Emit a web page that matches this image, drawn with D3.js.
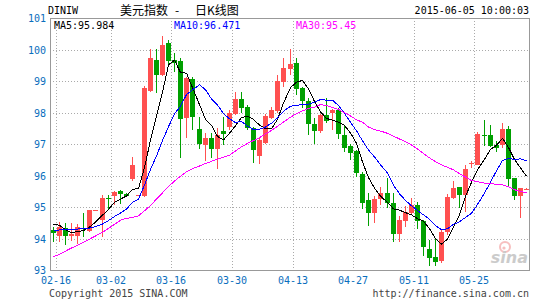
<!DOCTYPE html>
<html>
<head>
<meta charset="utf-8">
<script src="https://cdn.jsdelivr.net/npm/d3@7"></script>
<style>
  body { margin: 0; background: #fff; }
  text { font-family: "DejaVu Sans Mono", monospace; font-size: 10px; }
</style>
</head>
<body>
<div id="container"></div>
<script>
// DINIW daily candles, 2015-02-13 .. 2015-06-05 (one entry per trading day)
var opens = [94.26,94.05,94.34,94.07,94.10,94.34,94.23,94.87,94.58,95.27,
  95.34,95.50,95.42,95.91,95.35,95.36,98.70,99.68,99.20,100.22,
  99.68,99.62,97.82,99.07,97.47,96.98,97.20,96.85,97.42,97.55,
  97.95,98.43,98.17,97.50,96.60,97.05,97.82,98.05,98.98,99.40,
  99.56,98.77,98.37,97.64,97.42,97.92,97.98,98.07,97.30,96.95,
  96.77,96.06,95.21,94.80,95.24,95.43,95.12,94.14,94.55,94.79,
  95.05,94.55,93.68,93.40,93.27,94.20,95.30,95.62,95.38,96.35,
  96.35,97.29,97.29,96.98,96.97,97.48,95.92,95.34,95.55];
var highs = [94.35,94.52,94.50,94.50,94.45,94.82,94.91,94.91,95.37,95.37,
  95.52,95.55,95.46,96.60,95.38,98.83,100.02,100.03,100.44,100.30,
  99.90,99.74,99.14,99.12,97.85,97.35,97.35,97.50,97.87,98.08,
  98.65,98.65,98.25,97.55,97.20,97.95,98.19,99.19,99.72,100.03,
  99.72,98.82,98.45,97.82,97.96,98.45,98.10,98.14,97.56,97.00,
  96.80,96.10,95.43,95.35,95.64,95.93,95.43,94.72,95.03,95.27,
  95.17,94.60,93.95,94.00,94.30,95.40,95.84,95.62,96.32,96.46,
  97.37,97.77,97.60,97.10,97.67,97.56,95.92,95.60,95.61];
var lows = [93.88,93.88,93.78,93.92,93.82,94.05,94.20,94.86,94.06,94.93,
  95.05,95.10,95.33,95.84,95.34,95.33,98.66,98.63,99.15,99.55,
  99.30,96.56,97.20,97.45,96.83,96.45,96.56,96.20,96.98,97.45,
  97.92,98.00,97.45,96.40,96.35,97.00,97.80,98.00,98.82,99.20,
  98.56,98.15,97.30,97.00,97.35,97.66,97.45,97.17,96.75,96.50,
  95.95,94.95,94.40,94.50,95.06,94.98,93.90,93.90,94.38,94.75,
  94.30,93.45,93.12,93.12,93.22,94.10,95.25,94.96,94.85,96.24,
  96.33,96.95,96.90,96.74,96.88,95.66,95.22,94.64,95.53];
var closes = [94.18,94.35,94.09,94.13,94.37,94.30,94.89,94.89,95.27,95.24,
  95.47,95.40,95.36,96.34,95.37,98.79,99.74,99.19,100.15,99.66,
  99.58,97.77,99.08,97.85,96.98,97.20,96.85,97.30,97.34,98.00,
  98.43,98.15,97.50,96.80,97.12,97.90,98.08,99.00,99.42,99.55,
  98.75,98.36,97.65,97.42,97.92,97.72,98.08,97.31,96.90,96.74,
  96.06,95.15,94.80,95.24,95.43,95.11,94.14,94.60,94.84,95.05,
  94.53,93.72,93.40,93.25,94.20,95.32,95.61,95.37,96.21,96.39,
  97.33,97.27,96.95,96.87,97.48,95.90,95.34,95.59,95.58];

// moving averages as plotted
var ma5 = [94.46,94.42,94.28,94.18,94.22,94.25,94.36,94.52,94.74,94.92,
  95.15,95.25,95.35,95.56,95.59,96.25,97.12,97.89,98.65,99.51,
  99.66,99.27,99.25,98.79,98.25,97.78,97.59,97.24,97.13,97.34,
  97.58,97.84,97.88,97.78,97.60,97.49,97.48,97.78,98.30,98.79,
  98.96,99.02,98.75,98.35,98.02,97.81,97.76,97.69,97.59,97.35,
  97.02,96.43,95.93,95.60,95.34,95.15,94.94,94.90,94.82,94.75,
  94.63,94.55,94.31,93.99,93.82,93.98,94.36,94.75,95.34,95.78,
  96.18,96.51,96.83,96.96,97.18,96.89,96.51,96.24,95.98];
var ma10 = [94.26,94.27,94.28,94.29,94.30,94.31,94.33,94.38,94.46,94.57,
  94.70,94.81,94.93,95.15,95.25,95.70,96.19,96.62,97.11,97.55,
  97.96,98.20,98.57,98.72,98.88,98.72,98.43,98.24,97.96,97.80,
  97.68,97.72,97.56,97.46,97.47,97.54,97.66,97.83,98.04,98.20,
  98.23,98.25,98.26,98.33,98.41,98.39,98.39,98.22,97.97,97.69,
  97.42,97.10,96.81,96.59,96.34,96.08,95.69,95.42,95.21,95.04,
  94.89,94.75,94.61,94.41,94.28,94.31,94.45,94.53,94.67,94.80,
  95.08,95.44,95.79,96.15,96.48,96.54,96.51,96.53,96.47];
var ma30 = [93.42,93.50,93.60,93.70,93.78,93.88,93.98,94.08,94.20,94.32,
  94.45,94.58,94.64,94.67,94.72,94.88,95.05,95.25,95.45,95.65,
  95.82,95.98,96.12,96.22,96.30,96.38,96.45,96.52,96.58,96.64,
  96.78,96.91,97.02,97.11,97.20,97.32,97.43,97.56,97.70,97.85,
  97.96,98.05,98.13,98.17,98.25,98.22,98.16,98.10,97.99,97.89,
  97.77,97.69,97.54,97.46,97.41,97.34,97.25,97.16,97.07,96.97,
  96.84,96.70,96.56,96.44,96.34,96.26,96.18,96.06,95.95,95.84,
  95.80,95.76,95.74,95.72,95.70,95.64,95.55,95.49,95.45];

var tickLabels = ["02-16","03-02","03-16","03-30","04-13","04-27","05-11","05-25"];
var tickIndex = [1, 10, 20, 30, 40, 50, 60, 70];
var yTicks = [93, 94, 95, 96, 97, 98, 99, 100, 101];

var maLabels = ["MA5:95.984", "MA10:96.471", "MA30:95.45"];

function load() {

	var width = 545, height = 300;
	var left = 50, right = 529, top = 18, bottom = 270;

	var svg = d3.select("#container").append("svg")
		.attr("width", width)
		.attr("height", height);

	// scales
	var x = d3.scaleBand()
		.domain(d3.range(closes.length))
		.range([left, right]);
	var y = d3.scaleLinear()
		.domain([93, 101])
		.range([bottom, top]);

	function cx(i) { return Math.round(x(i) + x.bandwidth() / 2); }

	// dotted grid
	var grid = svg.append("g")
		.attr("stroke", "#aaa")
		.attr("stroke-dasharray", "1,2")
		.attr("shape-rendering", "crispEdges");
	grid.selectAll("line.h")
		.data(yTicks.slice(1, -1))
	  .enter().append("line")
		.attr("x1", left).attr("x2", right)
		.attr("y1", function(d) { return Math.round(y(d)) + 0.5; })
		.attr("y2", function(d) { return Math.round(y(d)) + 0.5; });
	grid.selectAll("line.v")
		.data(tickIndex)
	  .enter().append("line")
		.attr("x1", function(d) { return Math.round(x(d)) + 0.5; })
		.attr("x2", function(d) { return Math.round(x(d)) + 0.5; })
		.attr("y1", top).attr("y2", bottom);

	// sina watermark
	var wm = svg.append("g").attr("opacity", 0.5);
	wm.append("circle").attr("cx", 505).attr("cy", 247).attr("r", 5)
		.attr("fill", "none").attr("stroke", "#f08080").attr("stroke-width", 2);
	wm.append("circle").attr("cx", 504).attr("cy", 248).attr("r", 1.6).attr("fill", "#f08080");
	wm.append("text").attr("x", 528).attr("y", 263)
		.attr("text-anchor", "end")
		.style("font-family", "'DejaVu Sans', sans-serif")
		.style("font-size", "16px").style("font-weight", "bold").style("font-style", "italic")
		.attr("fill", "#999").text("sina");

	// candles
	var candle = svg.append("g").attr("shape-rendering", "crispEdges")
		.selectAll("g")
		.data(closes)
	  .enter().append("g")
		.attr("fill", function(d, i) { return d >= opens[i] ? "#ff5050" : "#00a000"; })
		.attr("stroke", function(d, i) { return d >= opens[i] ? "#ff5050" : "#00a000"; });

	candle.append("line")
		.attr("x1", function(d, i) { return cx(i) + 0.5; })
		.attr("x2", function(d, i) { return cx(i) + 0.5; })
		.attr("y1", function(d, i) { return Math.round(y(highs[i])); })
		.attr("y2", function(d, i) { return Math.round(y(lows[i])); });

	candle.append("rect")
		.attr("stroke", "none")
		.attr("x", function(d, i) { return cx(i) - 2; })
		.attr("width", 5)
		.attr("y", function(d, i) { return Math.round(y(Math.max(d, opens[i]))); })
		.attr("height", function(d, i) {
			return Math.max(1, Math.round(Math.abs(y(d) - y(opens[i]))));
		});

	// moving average lines (pixel style, no smoothing)
	var line = d3.line()
		.x(function(d, i) { return cx(i) + 0.5; })
		.y(function(d) { return y(d); });

	[[ma5, "#000"], [ma10, "#0000ff"], [ma30, "#ff00ff"]].forEach(function(s) {
		svg.append("path")
			.datum(s[0])
			.attr("fill", "none")
			.attr("stroke", s[1])
			.attr("stroke-width", 1)
			.attr("shape-rendering", "crispEdges")
			.attr("d", line);
	});

	// frame
	svg.append("rect")
		.attr("x", left + 0.5).attr("y", top + 0.5)
		.attr("width", right - left).attr("height", bottom - top)
		.attr("fill", "none").attr("stroke", "#999")
		.attr("shape-rendering", "crispEdges");

	// y labels
	svg.append("g").selectAll("text")
		.data(yTicks)
	  .enter().append("text")
		.attr("x", left - 4)
		.attr("y", function(d) { return y(d) + 4; })
		.attr("text-anchor", "end")
		.attr("fill", "#0a6ebd")
		.text(function(d) { return d; });

	// x labels
	svg.append("g").selectAll("text")
		.data(tickLabels)
	  .enter().append("text")
		.attr("x", function(d, i) { return Math.round(x(tickIndex[i])); })
		.attr("y", 284)
		.attr("text-anchor", "middle")
		.attr("fill", "#0a6ebd")
		.text(function(d) { return d; });

	// MA legend
	var maColors = ["#000", "#0000ff", "#ff00ff"];
	var maX = [54, 174, 296];
	svg.append("g").selectAll("text")
		.data(maLabels)
	  .enter().append("text")
		.attr("x", function(d, i) { return maX[i]; })
		.attr("y", 29)
		.attr("fill", function(d, i) { return maColors[i]; })
		.text(function(d) { return d; });

	// header
	svg.append("text").attr("x", 48).attr("y", 14).attr("fill", "#000").text("DINIW");
	var title = svg.append("text").attr("y", 15)
		.style("font-family", "'Noto Sans CJK SC', sans-serif")
		.style("font-size", "12px").attr("fill", "#000");
	title.append("tspan").attr("x", 120).text("美元指数");
	title.append("tspan").attr("x", 175).text("-");
	title.append("tspan").attr("x", 195).text("日K线图");
	svg.append("text").attr("x", 529).attr("y", 14).attr("text-anchor", "end")
		.attr("fill", "#000").text("2015-06-05 10:00:03");

	// footer
	svg.append("text").attr("x", 49).attr("y", 297).attr("fill", "#444")
		.text("Copyright 2015 SINA.COM");
	svg.append("text").attr("x", 529).attr("y", 297).attr("text-anchor", "end")
		.attr("fill", "#444").text("http://finance.sina.com.cn");
}

load();
</script>
</body>
</html>
